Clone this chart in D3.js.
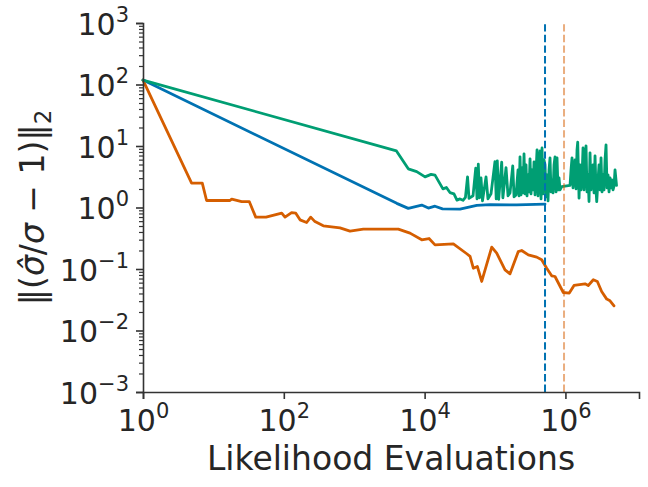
<!DOCTYPE html>
<html>
<head>
<meta charset="utf-8">
<script src="https://cdn.jsdelivr.net/npm/d3@7"></script>
<style>
  html, body { margin: 0; padding: 0; background: #fff; }
  svg { display: block; font-family: "DejaVu Sans", sans-serif; }
</style>
</head>
<body>
<svg id="chart" width="648" height="487"></svg>
<script>
// ---- data ----
const orangeX = [1, 4.9, 6.95, 8.0, 17.2, 18.2, 25.2, 32.3, 39.9, 55.9, 93.4, 104, 129, 148, 170, 211, 241, 277, 364, 628, 871, 1346, 4230, 6200, 9100, 11550, 14050, 25600, 39700, 44200, 49200, 56100, 64700, 89800, 105700, 138700, 163300, 214000, 239000, 297000, 391000, 460000, 542000, 638000, 711000, 933000, 1.135e6, 1.324e6, 1.9e6, 2.11e6, 2.49e6, 2.84e6, 3.27e6, 3.86e6, 4.3e6, 4.9e6];
const orangeY = [118, 2.49, 2.49, 1.30, 1.30, 1.37, 1.25, 1.25, 0.697, 0.697, 0.81, 0.697, 0.828, 0.81, 0.63, 0.57, 0.697, 0.59, 0.503, 0.467, 0.413, 0.445, 0.445, 0.383, 0.298, 0.313, 0.247, 0.257, 0.177, 0.16, 0.103, 0.11, 0.0627, 0.227, 0.181, 0.097, 0.0836, 0.192, 0.2, 0.17, 0.156, 0.141, 0.103, 0.0776, 0.0755, 0.0415, 0.0406, 0.054, 0.0575, 0.054, 0.0668, 0.0627, 0.043, 0.0324, 0.0304, 0.0252];

const blueX = [1, 4020, 5860, 9100, 11300, 14050, 17960, 31800, 55000, 84900, 203000, 513000];
const blueY = [118, 1.168, 0.969, 1.096, 0.98, 1.05, 0.951, 0.94, 1.084, 1.112, 1.104, 1.138];

const greenX = [1, 3980, 5860, 7720, 10140, 12340, 14050, 18200, 20400, 22900, 26100, 28800, 31800, 35100, 38000, 40700, 42700, 48700, 53200, 55500, 57900, 60200, 63200, 66400, 74500, 79400, 87700, 99800, 104000, 107700, 112700, 124400, 129300, 143300, 153000, 163300, 178500, 186400, 198800,
  212200, 219200, 226500, 234000, 241800, 249900, 258200, 266800, 275600, 284800, 294300, 304100, 314200, 324700, 335500, 346600, 358100, 370100, 382400, 395100, 408200, 421700, 435800, 450300, 465200, 480700, 496700, 513200, 530300, 547900, 566100, 584800, 604300, 624400, 645100, 666600, 688800, 711700, 735400, 759800, 785100, 811200, 838200, 886000,
  1.1625e6, 1.201e6, 1.241e6, 1.282e6, 1.325e6, 1.369e6, 1.414e6, 1.461e6, 1.495e6, 1.561e6, 1.612e6, 1.666e6, 1.721e6, 1.778e6, 1.838e6, 1.898e6, 1.961e6, 2.027e6, 2.094e6, 2.163e6, 2.235e6, 2.310e6, 2.386e6, 2.466e6, 2.547e6, 2.633e6, 2.720e6, 2.783e6, 2.905e6, 3.001e6, 3.101e6, 3.204e6, 3.311e6, 3.421e6, 3.535e6, 3.652e6, 3.774e6, 3.899e6, 4.029e6, 4.163e6, 4.301e6, 4.444e6, 4.592e6, 4.745e6, 4.902e6, 5.065e6, 5.319e6];
const greenY = [118, 8.32, 4.25, 3.84, 3.15, 3.46, 3.36, 2.01, 2.12, 1.75, 1.67, 1.32, 1.38, 1.31, 1.46, 3.15, 1.41, 1.55, 4.36, 1.38, 5.06, 1.44, 3.03, 1.28, 3.15, 1.38, 1.67, 5.58, 1.38, 5.73, 1.36, 5.46, 1.44, 4.46, 1.55, 1.73, 4.75, 1.49, 1.60,
  4.09, 1.547, 6.65, 1.605, 4.41, 1.73, 7.44, 1.667, 4.93, 1.547, 3.39, 1.796, 6.17, 1.667, 4.09, 1.936, 5.51, 1.605, 3.80, 8.64, 1.547, 4.93, 8.32, 1.382, 9.31, 1.667, 5.94, 4.93, 1.49, 3.39, 1.283, 4.09, 6.41, 1.796, 2.81, 1.73, 4.93, 6.65, 1.796, 6.41, 1.936, 3.03, 1.936, 2.19,
  2.29, 4.09, 6.41, 2.086, 3.80, 5.94, 2.01, 8.64, 11.53, 1.419, 4.93, 1.936, 3.03, 9.31, 1.936, 5.94, 10.04, 1.796, 3.39, 1.249, 7.73, 1.936, 4.09, 4.93, 1.73, 6.90, 1.936, 1.249, 2.81, 4.93, 1.936, 6.41, 1.796, 3.39, 1.936, 5.94, 10.42, 2.086, 3.39, 1.796, 3.03, 2.086, 2.81, 1.936, 2.247, 4.09, 2.29];

const vlineBlueX = 5.13e5;
const vlineOrangeX = 9.55e5;

const xTickValues = [1, 1e2, 1e4, 1e6];
const yTickValues = [1e-3, 1e-2, 1e-1, 1e0, 1e1, 1e2, 1e3];
const xExponents = [0, 2, 4, 6];
const yExponents = [-3, -2, -1, 0, 1, 2, 3];

// ---- layout ----
const svg = d3.select("#chart");
const margin = { left: 143, right: 9, top: 23, bottom: 95 };
const W = 648, H = 487;
const xMax = Math.pow(10, 7.045);
const x = d3.scaleLog().domain([1, xMax]).range([margin.left, W - margin.right]);
const y = d3.scaleLog().domain([1e-3, 1e3]).range([H - margin.bottom, margin.top]);

const axisColor = "#333333";
const textColor = "#262626";
const tickFont = 30, supFont = 21;

// data lines
const line = d3.line().x(d => x(d[0])).y(d => y(d[1]));
function series(xs, ys) { return xs.map((v, i) => [v, ys[i]]); }

const plot = svg.append("g");
function drawSeries(xs, ys, color) {
  plot.append("path").datum(series(xs, ys))
    .attr("d", line).attr("fill", "none").attr("stroke", color)
    .attr("stroke-width", 2.8).attr("stroke-linejoin", "round").attr("stroke-linecap", "round");
}
drawSeries(blueX, blueY, "#0072b2");
drawSeries(orangeX, orangeY, "#d55e00");
drawSeries(greenX, greenY, "#009e73");

// vertical dashed lines
plot.append("line")
  .attr("x1", x(vlineBlueX)).attr("x2", x(vlineBlueX))
  .attr("y1", y(1e-3)).attr("y2", y(1e3))
  .attr("stroke", "#0072b2").attr("stroke-width", 2).attr("stroke-dasharray", "7.4,3.2");
plot.append("line")
  .attr("x1", x(vlineOrangeX)).attr("x2", x(vlineOrangeX))
  .attr("y1", y(1e-3)).attr("y2", y(1e3))
  .attr("stroke", "#d55e00").attr("stroke-opacity", 0.5).attr("stroke-width", 2).attr("stroke-dasharray", "7.4,3.2");

// x axis
const xAxis = d3.axisBottom(x).tickValues(xTickValues).tickSize(7).tickFormat("");
const gx = svg.append("g").attr("transform", `translate(0,${y(1e-3)})`).call(xAxis);
gx.select(".domain").attr("stroke", axisColor).attr("stroke-width", 1.6);
gx.selectAll(".tick line").attr("stroke", axisColor).attr("stroke-width", 1.6);

gx.selectAll(".tick").each(function(d, i) {
  const t = d3.select(this).append("text")
    .attr("y", 39).attr("text-anchor", "middle").attr("fill", textColor)
    .attr("font-size", tickFont).attr("font-family", "DejaVu Sans");
  t.append("tspan").text("10");
  t.append("tspan").attr("font-size", supFont).attr("dy", -13).text(String(xExponents[i]));
});

// y axis
const yMinor = [];
for (let e = -3; e < 3; e++) for (let m = 2; m <= 9; m++) yMinor.push(m * Math.pow(10, e));
const yAxisMinor = d3.axisLeft(y).tickValues(yMinor).tickSize(4).tickFormat("");
const gym = svg.append("g").attr("transform", `translate(${x(1)},0)`).call(yAxisMinor);
gym.select(".domain").remove();
gym.selectAll(".tick line").attr("stroke", axisColor).attr("stroke-width", 1.2);

const yAxis = d3.axisLeft(y).tickValues(yTickValues).tickSize(7).tickFormat("");
const gy = svg.append("g").attr("transform", `translate(${x(1)},0)`).call(yAxis);
gy.select(".domain").attr("stroke", axisColor).attr("stroke-width", 1.6);
gy.selectAll(".tick line").attr("stroke", axisColor).attr("stroke-width", 1.6);

gy.selectAll(".tick").each(function(d, i) {
  const t = d3.select(this).append("text")
    .attr("x", -14).attr("y", 11).attr("text-anchor", "end").attr("fill", textColor)
    .attr("font-size", tickFont).attr("font-family", "DejaVu Sans");
  t.append("tspan").text("10");
  const exp = yExponents[i];
  t.append("tspan").attr("font-size", supFont).attr("dy", -13)
    .text(exp < 0 ? "\u2212" + Math.abs(exp) : String(exp));
});

// axis labels
svg.append("text")
  .attr("x", (x(1) + x(xMax)) / 2).attr("y", 470)
  .attr("text-anchor", "middle").attr("fill", textColor)
  .attr("font-size", 33).attr("font-family", "DejaVu Sans")
  .text("Likelihood Evaluations");

const yl = svg.append("text")
  .attr("transform", `translate(44,${(y(1e-3) + y(1e3)) / 2}) rotate(-90)`)
  .attr("text-anchor", "middle").attr("fill", textColor)
  .attr("font-size", 33).attr("font-family", "DejaVu Sans");
yl.append("tspan").text("\u2016(");
yl.append("tspan").attr("font-style", "italic").text("\u03C3\u0302");
yl.append("tspan").text("/");
yl.append("tspan").attr("font-style", "italic").text("\u03C3");
yl.append("tspan").text(" \u2212 1)\u2016");
yl.append("tspan").attr("font-size", 23).attr("dy", 7).text("2");
</script>
</body>
</html>
